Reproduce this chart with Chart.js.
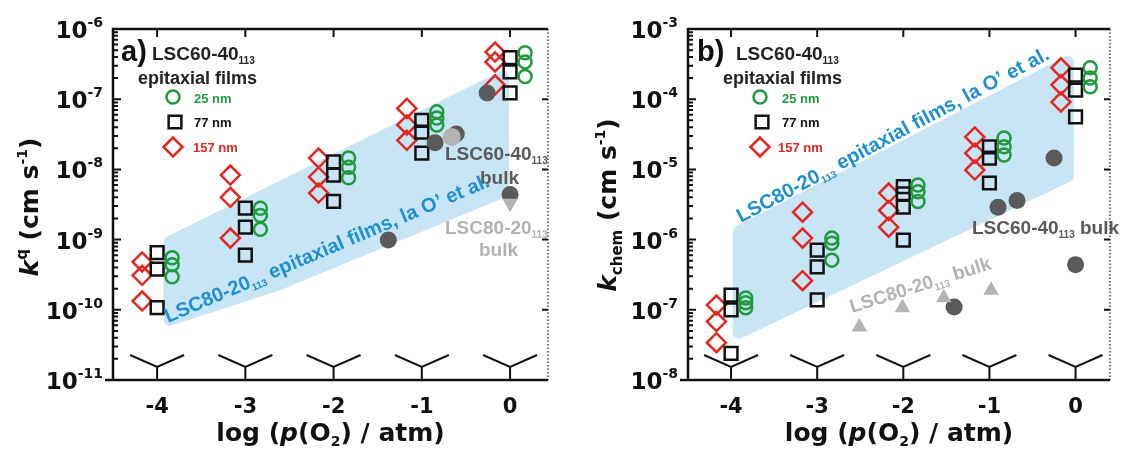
<!DOCTYPE html>
<html>
<head>
<meta charset="utf-8">
<script src="https://cdn.jsdelivr.net/npm/chart.js@4.4.1/dist/chart.umd.min.js"></script>
<style>
  html, body { margin: 0; padding: 0; background: #fff; }
  #wrap { position: relative; width: 1122px; height: 451px; overflow: hidden; }
  #chartA { position: absolute; left: 0; top: 0; }
  #chartB { position: absolute; left: 560px; top: 0; }
</style>
</head>
<body>
<div id="wrap">
  <canvas id="chartA" width="560" height="451"></canvas>
  <canvas id="chartB" width="562" height="451"></canvas>
</div>
<script>
// log(pO2 / atm) values where films were measured
const pO2 = [-4, -3, -2, -1, 0];

// panel a: k^q (cm/s), several films per thickness at each pO2
const kq25  = [[5.5e-10, 4.4e-10, 2.95e-10], [2.8e-9, 2.2e-9, 1.4e-9], [1.45e-8, 1.07e-8, 7.6e-9], [6.6e-8, 5.4e-8, 4.3e-8], [4.6e-7, 3.4e-7, 2.1e-7]];
const kq77  = [[6.5e-10, 3.8e-10, 1.07e-10], [2.8e-9, 1.5e-9, 6.0e-10], [1.28e-8, 8.3e-9, 3.5e-9], [5.0e-8, 3.4e-8, 1.7e-8], [3.9e-7, 2.45e-7, 1.23e-7]];
const kq157 = [[4.8e-10, 3.1e-10, 1.33e-10], [8.3e-9, 4.0e-9, 1.05e-9], [1.45e-8, 7.8e-9, 4.6e-9], [7.4e-8, 4.3e-8, 2.6e-8], [4.7e-7, 3.4e-7, 1.6e-7]];

// panel b: k_chem (cm/s)
const kc25  = [[1.47e-7, 1.26e-7, 1.07e-7], [1.05e-6, 8.9e-7, 5.1e-7], [6.0e-6, 4.8e-6, 3.5e-6], [2.8e-5, 2.1e-5, 1.6e-5], [2.8e-4, 2.0e-4, 1.5e-4]];
const kc77  = [[1.62e-7, 1.0e-7, 2.4e-8], [7.1e-7, 4.1e-7, 1.38e-7], [5.7e-6, 4.5e-6, 2.9e-6, 9.8e-7], [2.1e-5, 1.45e-5, 6.4e-6], [2.2e-4, 1.35e-4, 5.6e-5]];
const kc157 = [[1.17e-7, 6.8e-8, 3.4e-8], [2.46e-6, 1.05e-6, 2.6e-7], [4.6e-6, 2.6e-6, 1.5e-6], [2.9e-5, 1.7e-5, 9.8e-6], [2.8e-4, 1.6e-4, 9.1e-5]];

// bulk samples
const bulk6040aX = [-1.38, -0.61, -0.85, -0.26, 0];
const bulk6040aY = [9.9e-10, 3.2e-8, 2.4e-8, 1.23e-7, 4.4e-9];
const bulk8020aX = [-0.66, 0];
const bulk8020aY = [2.9e-8, 3.3e-9];
const bulk6040bX = [-1.41, -0.9, -0.68, -0.25, 0];
const bulk6040bY = [1.1e-7, 2.9e-6, 3.6e-6, 1.45e-5, 4.4e-7];
const bulk8020bX = [-2.51, -2.01, -1.53, -0.98];
const bulk8020bY = [5.7e-8, 1.07e-7, 1.48e-7, 1.9e-7];

// shaded range of LSC80-20 epitaxial films (la O' et al.)
const bandAX = [-3.86, -3.86, -2.61, -0.08, -0.08];
const bandAY = [9.2e-10, 7.2e-11, 2.33e-10, 4.8e-9, 2.1e-7];
const bandBX = [-3.91, -3.91, -0.09, -0.09];
const bandBY = [1.3e-6, 4.7e-8, 8.0e-6, 3.4e-4];

const GREEN = '#1f9a3c', RED = '#e5261f', BLACK = '#111111';
const GREY_D = '#5a5a5a', GREY_L = '#b3b3b3', BLUE = '#1f8fd4', BAND = '#c8e5f5';
const FONT_T = '"Liberation Sans", Arial, sans-serif';
const FONT_A = '"DejaVu Sans", sans-serif';

const fontOf = (p) => (p.it ? 'italic ' : '') + 'bold ' + p.s + 'px ' + (p.f || FONT_T);

// draw a line of text made of parts with their own size / offset
function rich(ctx, x, y, parts, align, color) {
  ctx.fillStyle = color;
  ctx.textBaseline = 'alphabetic';
  ctx.textAlign = 'left';
  let w = 0;
  parts.forEach(p => { ctx.font = fontOf(p); w += ctx.measureText(p.t).width; });
  let cx = align === 'center' ? x - w / 2 : align === 'right' ? x - w : x;
  parts.forEach(p => {
    ctx.font = fontOf(p);
    ctx.fillText(p.t, cx, y + (p.dy || 0));
    cx += ctx.measureText(p.t).width;
  });
}

function mark(ctx, style, x, y, r, color) {
  ctx.beginPath();
  ctx.lineWidth = 2.5;
  ctx.strokeStyle = color;
  if (style === 'circle') {
    ctx.arc(x, y, r, 0, 2 * Math.PI);
  } else if (style === 'rect') {
    const h = r * Math.SQRT1_2;
    ctx.rect(x - h, y - h, 2 * h, 2 * h);
  } else {
    ctx.moveTo(x - r, y); ctx.lineTo(x, y - r); ctx.lineTo(x + r, y); ctx.lineTo(x, y + r); ctx.closePath();
  }
  ctx.stroke();
}

const seriesPoints = (vals, dx) => {
  const pts = [];
  vals.forEach((grp, i) => grp.forEach(v => pts.push({ x: pO2[i] + dx, y: v })));
  return pts;
};
const zip = (xs, ys) => xs.map((x, i) => ({ x: x, y: ys[i] }));

// frame, ticks, labels and annotations
function decor(cfg) {
  return {
    id: 'decor',
    afterDatasetsDraw(chart) {
      const ctx = chart.ctx, a = chart.chartArea;
      const xs = chart.scales.x, ys = chart.scales.y;
      const ox = cfg.ox;
      ctx.save();
      ctx.lineCap = 'butt';

      // box
      ctx.strokeStyle = BLACK;
      ctx.lineWidth = 2.5;
      ctx.beginPath();
      ctx.moveTo(a.left, a.bottom); ctx.lineTo(a.left, a.top); ctx.lineTo(a.right, a.top);
      ctx.moveTo(a.left - 8, a.bottom); ctx.lineTo(a.right, a.bottom);
      ctx.stroke();
      ctx.save();
      ctx.lineWidth = 1.5;
      ctx.strokeStyle = '#444';
      ctx.setLineDash([1.5, 2]);
      ctx.beginPath(); ctx.moveTo(a.right, a.top); ctx.lineTo(a.right, a.bottom); ctx.stroke();
      ctx.restore();

      // y ticks, log decades
      const e0 = Math.round(Math.log10(ys.min)), e1 = Math.round(Math.log10(ys.max));
      ctx.lineWidth = 2;
      ctx.beginPath();
      for (let e = e0; e <= e1; e++) {
        const py = ys.getPixelForValue(Math.pow(10, e));
        ctx.moveTo(a.left, py); ctx.lineTo(a.left + 8, py);
        ctx.moveTo(a.right, py); ctx.lineTo(a.right - 6, py);
        if (e < e1) {
          for (let m = 2; m <= 9; m++) {
            const pm = ys.getPixelForValue(m * Math.pow(10, e));
            ctx.moveTo(a.left, pm); ctx.lineTo(a.left + 5, pm);
          }
        }
      }
      ctx.stroke();
      for (let e = e0; e <= e1; e++) {
        const py = ys.getPixelForValue(Math.pow(10, e));
        rich(ctx, a.left - 10, py + 9, [{ t: '10', s: 23, f: FONT_A }, { t: String(e).replace('-', '-'), s: 14, dy: -11, f: FONT_A }], 'right', BLACK);
      }

      // x ticks with the break marks
      ctx.lineWidth = 2;
      ctx.beginPath();
      pO2.forEach(v => {
        const px = xs.getPixelForValue(v);
        ctx.moveTo(px, a.top); ctx.lineTo(px, a.top + 8);
        ctx.moveTo(px, a.bottom); ctx.lineTo(px, a.bottom - 13);
        ctx.moveTo(px - 27, a.bottom - 25); ctx.lineTo(px, a.bottom - 13); ctx.lineTo(px + 27, a.bottom - 25);
      });
      ctx.stroke();
      pO2.forEach(v => {
        rich(ctx, xs.getPixelForValue(v), 413, [{ t: String(v), s: 21, f: FONT_A }], 'center', BLACK);
      });

      // axis titles
      rich(ctx, (a.left + a.right) / 2, 441, [
        { t: 'log (', s: 25, f: FONT_A }, { t: 'p', s: 25, f: FONT_A, it: true }, { t: '(O', s: 25, f: FONT_A },
        { t: '2', s: 14, dy: 5, f: FONT_A }, { t: ') / atm)', s: 25, f: FONT_A }
      ], 'center', BLACK);
      ctx.save();
      ctx.translate(cfg.yTitle.x - ox, cfg.yTitle.y);
      ctx.rotate(-Math.PI / 2);
      rich(ctx, 0, 9, cfg.yTitle.parts, 'center', BLACK);
      ctx.restore();

      // legend markers
      cfg.legend.forEach(l => mark(ctx, l.style, l.x - ox, l.y, l.r, l.color));

      // annotations
      cfg.texts.forEach(t => {
        ctx.save();
        ctx.translate(t.x - ox, t.y);
        if (t.rot) ctx.rotate(t.rot * Math.PI / 180);
        rich(ctx, 0, 0, t.parts, 'left', t.color);
        ctx.restore();
      });
      ctx.restore();
    }
  };
}

function makeChart(id, cfg) {
  const datasets = [
    { data: zip(cfg.b80x, cfg.b80y), pointStyle: cfg.b80style, rotation: cfg.b80rot, pointRadius: 9,
      pointBackgroundColor: GREY_L, pointBorderColor: GREY_L, pointBorderWidth: 0, order: 0 },
    { data: zip(cfg.b60x, cfg.b60y), pointStyle: 'circle', pointRadius: 8.5,
      pointBackgroundColor: GREY_D, pointBorderColor: GREY_D, pointBorderWidth: 0, order: 0 },
    { data: seriesPoints(cfg.s25, 0.17), pointStyle: 'circle', pointRadius: 6.5,
      pointBackgroundColor: 'rgba(0,0,0,0)', pointBorderColor: GREEN, pointBorderWidth: 2.5, order: 1 },
    { data: seriesPoints(cfg.s77, 0), pointStyle: 'rect', pointRadius: 9,
      pointBackgroundColor: 'rgba(0,0,0,0)', pointBorderColor: BLACK, pointBorderWidth: 2.5, order: 1 },
    { data: seriesPoints(cfg.s157, -0.17), pointStyle: 'rectRot', pointRadius: 9.5,
      pointBackgroundColor: 'rgba(0,0,0,0)', pointBorderColor: RED, pointBorderWidth: 2.5, order: 1 },
    { type: 'line', data: zip(cfg.bandX.concat(cfg.bandX[0]), cfg.bandY.concat(cfg.bandY[0])),
      borderColor: BAND, backgroundColor: BAND, borderWidth: 12, borderJoinStyle: 'round', borderCapStyle: 'round',
      fill: 'shape', tension: 0, pointRadius: 0, order: 10 }
  ];
  return new Chart(document.getElementById(id), {
    type: 'scatter',
    data: { datasets: datasets },
    options: {
      responsive: false,
      animation: false,
      events: [],
      layout: { padding: { top: 29, right: cfg.padR, left: 0, bottom: 0 } },
      plugins: { legend: { display: false }, tooltip: { enabled: false } },
      scales: {
        x: { type: 'linear', min: -4.5, max: cfg.xMax, ticks: { display: false },
             grid: { display: false, drawTicks: false }, border: { display: false },
             afterFit: (s) => { s.height = 71; } },
        y: { type: 'logarithmic', min: cfg.yMin, max: cfg.yMax, ticks: { display: false },
             grid: { display: false, drawTicks: false }, border: { display: false },
             afterFit: (s) => { s.width = cfg.yW; } }
      }
    },
    plugins: [decor(cfg)]
  });
}

const legendAt = (x, y) => [
  { style: 'circle', x: x, y: y, r: 6.5, color: GREEN },
  { style: 'rect', x: x + 2, y: y + 25, r: 9, color: BLACK },
  { style: 'diamond', x: x, y: y + 50, r: 9.5, color: RED }
];
const sub113 = { t: '113', s: 10, dy: 4 };

makeChart('chartA', {
  ox: 0, padR: 12, yW: 113, xMax: 0.43, yMin: 1e-11, yMax: 1e-6,
  s25: kq25, s77: kq77, s157: kq157,
  b60x: bulk6040aX, b60y: bulk6040aY, b80x: bulk8020aX, b80y: bulk8020aY,
  b80style: ['circle', 'triangle'], b80rot: [0, 180],
  bandX: bandAX, bandY: bandAY,
  yTitle: { x: 29, y: 207, parts: [
    { t: 'k', s: 25, it: true, f: FONT_A }, { t: 'q', s: 15, dy: -11, f: FONT_A },
    { t: ' (cm s', s: 25, f: FONT_A }, { t: '-1', s: 14, dy: -11, f: FONT_A }, { t: ')', s: 25, f: FONT_A }] },
  legend: legendAt(173, 97),
  texts: [
    { x: 121, y: 61, color: BLACK, parts: [{ t: 'a)', s: 29 }] },
    { x: 152, y: 60, color: '#222', parts: [{ t: 'LSC60-40', s: 19 }, sub113] },
    { x: 138, y: 84, color: '#222', parts: [{ t: 'epitaxial films', s: 18 }] },
    { x: 194, y: 103, color: GREEN, parts: [{ t: '25 nm', s: 13 }] },
    { x: 194, y: 127, color: BLACK, parts: [{ t: '77 nm', s: 13 }] },
    { x: 193, y: 152, color: RED, parts: [{ t: '157 nm', s: 13 }] },
    { x: 445, y: 160, color: GREY_D, parts: [{ t: 'LSC60-40', s: 19 }, sub113] },
    { x: 480, y: 184, color: GREY_D, parts: [{ t: 'bulk', s: 19 }] },
    { x: 445, y: 234, color: GREY_L, parts: [{ t: 'LSC80-20', s: 19 }, sub113] },
    { x: 479, y: 256, color: GREY_L, parts: [{ t: 'bulk', s: 19 }] },
    { x: 168, y: 323, rot: -23, color: BLUE, parts: [{ t: 'LSC80-20', s: 20 }, sub113, { t: ' epitaxial films, la O\u2019 et al.', s: 20 }] }
  ]
});

makeChart('chartB', {
  ox: 560, padR: 2, yW: 128, xMax: 0.4, yMin: 1e-8, yMax: 1e-3,
  s25: kc25, s77: kc77, s157: kc157,
  b60x: bulk6040bX, b60y: bulk6040bY, b80x: bulk8020bX, b80y: bulk8020bY,
  b80style: 'triangle', b80rot: 0,
  bandX: bandBX, bandY: bandBY,
  yTitle: { x: 607, y: 205, parts: [
    { t: 'k', s: 25, it: true, f: FONT_A }, { t: 'chem', s: 15, dy: 6, f: FONT_A },
    { t: ' (cm s', s: 25, f: FONT_A }, { t: '-1', s: 14, dy: -11, f: FONT_A }, { t: ')', s: 25, f: FONT_A }] },
  legend: legendAt(760, 97),
  texts: [
    { x: 697, y: 61, color: BLACK, parts: [{ t: 'b)', s: 29 }] },
    { x: 736, y: 60, color: '#222', parts: [{ t: 'LSC60-40', s: 19 }, sub113] },
    { x: 723, y: 84, color: '#222', parts: [{ t: 'epitaxial films', s: 18 }] },
    { x: 782, y: 103, color: GREEN, parts: [{ t: '25 nm', s: 13 }] },
    { x: 782, y: 127, color: BLACK, parts: [{ t: '77 nm', s: 13 }] },
    { x: 778, y: 152, color: RED, parts: [{ t: '157 nm', s: 13 }] },
    { x: 972, y: 234, color: GREY_D, parts: [{ t: 'LSC60-40', s: 19 }, sub113, { t: ' bulk', s: 19 }] },
    { x: 852, y: 313, rot: -17.5, color: GREY_L, parts: [{ t: 'LSC80-20', s: 19 }, sub113, { t: ' bulk', s: 19 }] },
    { x: 741, y: 223, rot: -28, color: BLUE, parts: [{ t: 'LSC80-20', s: 20 }, sub113, { t: ' epitaxial films, la O\u2019 et al.', s: 20 }] }
  ]
});
</script>
</body>
</html>
